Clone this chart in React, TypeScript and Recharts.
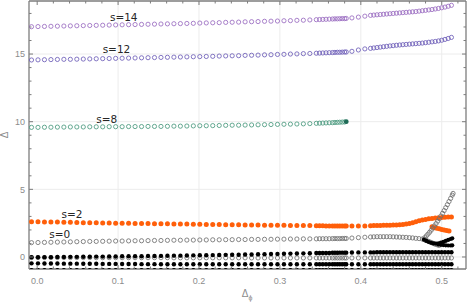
import { CartesianGrid, ReferenceDot, ReferenceLine, Scatter, ScatterChart, XAxis, YAxis } from "recharts"

// x positions of the computed points (one sweep, two dense scans, a gap in between)
const xSweep = [
  -0.007, 0.001, 0.009, 0.017, 0.025, 0.033, 0.041, 0.049, 0.057, 0.065, 0.073, 0.081, 0.089, 0.097, 0.105,
  0.113, 0.121, 0.129, 0.137, 0.145, 0.153, 0.161, 0.169, 0.177, 0.185, 0.193, 0.201, 0.209, 0.217, 0.225,
  0.233, 0.241, 0.249, 0.257, 0.265, 0.273, 0.281, 0.289, 0.297, 0.305, 0.313, 0.321, 0.329, 0.337
]
const xDense1 = [0.345, 0.349, 0.353, 0.357, 0.361, 0.365, 0.368, 0.371, 0.374, 0.377, 0.38, 0.382]
const xGap = [0.389, 0.397, 0.405]
const xDense2 = [
  0.412, 0.416, 0.42, 0.424, 0.428, 0.432, 0.436, 0.44, 0.444, 0.448, 0.452, 0.456, 0.46, 0.464, 0.468,
  0.472, 0.476, 0.48, 0.484, 0.488, 0.492, 0.496, 0.5, 0.504, 0.508, 0.512
]

const s14 = [
  17.02, 17.03, 17.04, 17.05, 17.06, 17.07, 17.08, 17.09, 17.1, 17.11, 17.12, 17.13, 17.14, 17.15, 17.16,
  17.17, 17.18, 17.19, 17.2, 17.21, 17.22, 17.23, 17.24, 17.25, 17.26, 17.27, 17.29, 17.3, 17.31, 17.32,
  17.34, 17.35, 17.36, 17.38, 17.39, 17.4, 17.42, 17.43, 17.44, 17.46, 17.47, 17.49, 17.5, 17.52,
  17.54, 17.55, 17.56, 17.57, 17.58, 17.59, 17.6, 17.6, 17.61, 17.62, 17.62, 17.63,
  17.67, 17.73, 17.8,
  17.86, 17.88, 17.9, 17.92, 17.94, 17.96, 17.98, 18.0, 18.02, 18.04, 18.06, 18.08, 18.1, 18.12, 18.14,
  18.17, 18.2, 18.23, 18.26, 18.29, 18.33, 18.37, 18.42, 18.47, 18.53, 18.6
]
const s12 = [
  14.56, 14.57, 14.58, 14.59, 14.6, 14.61, 14.61, 14.62, 14.63, 14.64, 14.65, 14.66, 14.67, 14.68, 14.69,
  14.7, 14.71, 14.72, 14.73, 14.74, 14.75, 14.76, 14.77, 14.78, 14.79, 14.8, 14.81, 14.82, 14.83, 14.85,
  14.86, 14.87, 14.88, 14.9, 14.91, 14.92, 14.94, 14.95, 14.97, 14.98, 15.0, 15.01, 15.03, 15.04,
  15.06, 15.07, 15.08, 15.09, 15.1, 15.11, 15.12, 15.13, 15.13, 15.14, 15.15, 15.15,
  15.2, 15.3, 15.38,
  15.42, 15.45, 15.48, 15.51, 15.54, 15.57, 15.6, 15.62, 15.65, 15.67, 15.69, 15.71, 15.73, 15.75, 15.77,
  15.79, 15.81, 15.84, 15.87, 15.9, 15.93, 15.97, 16.02, 16.08, 16.15, 16.23
]
const s8 = [
  9.58, 9.58, 9.59, 9.59, 9.6, 9.6, 9.61, 9.61, 9.61, 9.62, 9.62, 9.62, 9.63, 9.63, 9.63,
  9.64, 9.64, 9.64, 9.65, 9.65, 9.65, 9.66, 9.67, 9.67, 9.68, 9.69, 9.7, 9.7, 9.71, 9.72,
  9.73, 9.74, 9.74, 9.75, 9.76, 9.77, 9.78, 9.79, 9.8, 9.81, 9.82, 9.83, 9.84, 9.86,
  9.88, 9.89, 9.9, 9.91, 9.92, 9.93, 9.94, 9.95, 9.96, 9.97, 9.98, 10.0
]
const s2 = [
  2.61, 2.6, 2.59, 2.58, 2.58, 2.57, 2.56, 2.55, 2.54, 2.53, 2.53, 2.52, 2.51, 2.5, 2.5,
  2.49, 2.48, 2.48, 2.47, 2.46, 2.46, 2.45, 2.44, 2.44, 2.43, 2.42, 2.42, 2.41, 2.4, 2.4,
  2.39, 2.38, 2.38, 2.37, 2.37, 2.36, 2.35, 2.35, 2.34, 2.34, 2.33, 2.33, 2.32, 2.32,
  2.31, 2.31, 2.31, 2.3, 2.3, 2.3, 2.3, 2.3, 2.3, 2.3, 2.3, 2.3,
  2.3, 2.3, 2.3,
  2.31, 2.32, 2.33, 2.33, 2.34, 2.35, 2.35, 2.36, 2.37, 2.39, 2.41, 2.44, 2.48, 2.54, 2.61,
  2.68, 2.74, 2.78, 2.82, 2.85, 2.88, 2.9, 2.92, 2.94, 2.95, 2.96
]
const xS2Branch = [0.488, 0.491, 0.494, 0.497, 0.5, 0.503, 0.506, 0.509]
const s2Branch = [2.23, 2.17, 2.12, 2.08, 2.04, 2.0, 1.96, 1.93]

// s=0 runs up to x=0.476, then splits
const s0 = [
  1.06, 1.07, 1.08, 1.09, 1.1, 1.11, 1.12, 1.13, 1.14, 1.15, 1.15, 1.16, 1.17, 1.18, 1.18,
  1.19, 1.2, 1.2, 1.21, 1.22, 1.22, 1.23, 1.24, 1.24, 1.25, 1.25, 1.26, 1.26, 1.27, 1.27,
  1.28, 1.28, 1.29, 1.29, 1.3, 1.3, 1.31, 1.31, 1.32, 1.32, 1.33, 1.33, 1.34, 1.34,
  1.34, 1.35, 1.35, 1.35, 1.35, 1.36, 1.36, 1.36, 1.36, 1.37, 1.37, 1.37,
  1.4, 1.43, 1.46,
  1.48, 1.49, 1.5, 1.5, 1.5, 1.5, 1.5, 1.49, 1.48, 1.47, 1.46, 1.45, 1.43, 1.41, 1.38, 1.36, 1.33
]
const xS0Rise = [0.479, 0.481, 0.483, 0.485, 0.487, 0.489, 0.491, 0.493, 0.495, 0.497, 0.499, 0.501, 0.503, 0.505, 0.507, 0.509, 0.511, 0.513, 0.514]
const s0Rise = [1.43, 1.56, 1.69, 1.83, 1.98, 2.14, 2.3, 2.47, 2.65, 2.83, 3.03, 3.23, 3.43, 3.65, 3.87, 4.1, 4.33, 4.57, 4.7]
const xS0Fall = [0.479, 0.481, 0.483, 0.485, 0.487, 0.489, 0.491, 0.493, 0.495, 0.497]
const s0Fall = [1.27, 1.22, 1.17, 1.12, 1.07, 1.02, 0.97, 0.93, 0.89, 0.86]

const xFork = [
  0.478, 0.481, 0.484, 0.487, 0.49, 0.493, 0.496, 0.499, 0.502, 0.505, 0.508, 0.511, 0.513,
  0.496, 0.499, 0.502, 0.505, 0.508, 0.511, 0.513
]
const fork = [
  1.28, 1.19, 1.11, 1.05, 1.0, 0.99, 1.01, 1.06, 1.12, 1.19, 1.26, 1.33, 1.38,
  0.93, 0.9, 0.88, 0.86, 0.85, 0.85, 0.86
]

const lowA = [
  -0.02, -0.02, -0.01, -0.01, 0.0, 0.0, 0.01, 0.01, 0.02, 0.02, 0.03, 0.03, 0.04, 0.04, 0.05,
  0.05, 0.06, 0.06, 0.07, 0.07, 0.08, 0.09, 0.1, 0.1, 0.11, 0.12, 0.13, 0.13, 0.14, 0.15,
  0.16, 0.17, 0.17, 0.18, 0.19, 0.2, 0.21, 0.22, 0.23, 0.24, 0.25, 0.26, 0.27, 0.28,
  0.29, 0.29, 0.3, 0.3, 0.3, 0.31, 0.31, 0.31, 0.32, 0.32, 0.32, 0.32,
  0.33, 0.34, 0.34,
  0.34, 0.34, 0.35, 0.35, 0.35, 0.35, 0.35, 0.35, 0.35, 0.35, 0.35, 0.35, 0.35, 0.35, 0.35,
  0.35, 0.35, 0.35, 0.35, 0.35, 0.35, 0.35, 0.35, 0.35, 0.35, 0.35
]
const lowOpen = [
  -0.04, -0.04, -0.04, -0.04, -0.04, -0.04, -0.04, -0.04, -0.04, -0.04, -0.05, -0.05, -0.05, -0.05, -0.05,
  -0.05, -0.05, -0.05, -0.05, -0.05, -0.05, -0.05, -0.06, -0.06, -0.06, -0.06, -0.06, -0.06, -0.06, -0.06,
  -0.06, -0.06, -0.06, -0.06, -0.07, -0.07, -0.07, -0.07, -0.07, -0.07, -0.07, -0.07, -0.07, -0.07,
  -0.07, -0.07, -0.07, -0.07, -0.07, -0.07, -0.07, -0.07, -0.07, -0.07, -0.07, -0.07,
  -0.07, -0.07, -0.07,
  -0.07, -0.07, -0.07, -0.07, -0.07, -0.07, -0.07, -0.07, -0.07, -0.07, -0.07, -0.07, -0.07, -0.07, -0.07,
  -0.07, -0.07, -0.07, -0.07, -0.07, -0.07, -0.07, -0.07, -0.07, -0.07, -0.07
]
const lowB = [
  -0.47, -0.47, -0.48, -0.48, -0.48, -0.49, -0.49, -0.49, -0.5, -0.5, -0.5, -0.51, -0.51, -0.51, -0.52,
  -0.52, -0.52, -0.53, -0.53, -0.53, -0.54, -0.54, -0.54, -0.54, -0.54, -0.54, -0.54, -0.54, -0.54, -0.54,
  -0.54, -0.54, -0.54, -0.54, -0.54, -0.54, -0.54, -0.54, -0.54, -0.54, -0.54, -0.54, -0.54, -0.54,
  -0.54, -0.54, -0.54, -0.54, -0.54, -0.54, -0.54, -0.54, -0.54, -0.54, -0.54, -0.54,
  -0.54, -0.54, -0.54,
  -0.54, -0.54, -0.54, -0.54, -0.54, -0.54, -0.54, -0.54, -0.54, -0.54, -0.54, -0.54, -0.54, -0.54, -0.54,
  -0.54, -0.54, -0.54, -0.54, -0.54, -0.54, -0.54, -0.54, -0.54, -0.54, -0.54
]
const lowC = [
  -0.98, -0.98, -0.98, -0.98, -0.98, -0.98, -0.98, -0.98, -0.98, -0.98, -0.98, -0.98, -0.98, -0.98, -0.98,
  -0.98, -0.98, -0.98, -0.98, -0.98, -0.98, -0.98, -0.98, -0.98, -0.98, -0.98, -0.98, -0.98, -0.98, -0.98,
  -0.98, -0.98, -0.98, -0.98, -0.98, -0.98, -0.98, -0.98, -0.98, -0.98, -0.98, -0.98, -0.98, -0.98,
  -0.98, -0.98, -0.98, -0.98, -0.98, -0.98, -0.98, -0.98, -0.98, -0.98, -0.98, -0.98,
  -0.98, -0.98, -0.98,
  -0.98, -0.98, -0.98, -0.98, -0.98, -0.98, -0.98, -0.98, -0.98, -0.98, -0.98, -0.98, -0.98, -0.98, -0.98,
  -0.98, -0.98, -0.98, -0.98, -0.98, -0.98, -0.98, -0.98, -0.98, -0.98, -0.98
]

const labelText = ["s=14", "s=12", "s=8", "s=2", "s=0"]
const labelX = [0.107, 0.098, 0.086, 0.043, 0.028]
const labelY = [17.76, 15.36, 10.18, 3.16, 1.72]

const xTicks = [
  0, 0.02, 0.04, 0.06, 0.08, 0.1, 0.12, 0.14, 0.16, 0.18, 0.2, 0.22, 0.24, 0.26, 0.28, 0.3, 0.32, 0.34,
  0.36, 0.38, 0.4, 0.42, 0.44, 0.46, 0.48, 0.5, 0.52
]
const xMajor = [0, 0.1, 0.2, 0.3, 0.4, 0.5]
const xMajorLabels = ["0.0", "0.1", "0.2", "0.3", "0.4", "0.5"]
const yTicks = [0, 1, 2, 3, 4, 5, 6, 7, 8, 9, 10, 11, 12, 13, 14, 15, 16, 17, 18]
const yMajor = [0, 5, 10, 15]
const yMajorLabels = ["0", "5", "10", "15"]

const X_DOMAIN = [-0.0101, 0.53]
const Y_DOMAIN = [-0.887, 18.92]

const WIDTH = 467
const HEIGHT = 302
const PLOT_LEFT = 29
const PLOT_RIGHT = 466
const PLOT_TOP = 1
const PLOT_BOTTOM = 269
const FRAME = "#7d7d7d"
const TICK_TEXT = "#8c8c8c"

const xAll = [...xSweep, ...xDense1, ...xGap, ...xDense2]

function toPoints(xs: number[], ys: number[]) {
  return ys.map((y, i) => ({ x: xs[i], y, last: i === ys.length - 1 }))
}

function openCircle(color: string) {
  return (props: any) => {
    if (props.cx == null || props.cy == null) return null
    return <circle cx={props.cx} cy={props.cy} r={2.1} fill="none" stroke={color} strokeWidth={0.85} />
  }
}

function dot(color: string, r: number) {
  return (props: any) => {
    if (props.cx == null || props.cy == null) return null
    return <circle cx={props.cx} cy={props.cy} r={r} fill={color} />
  }
}

function tealShape(props: any) {
  if (props.cx == null || props.cy == null) return null
  if (props.payload?.last) return <circle cx={props.cx} cy={props.cy} r={2.4} fill="#1f6b57" />
  return <circle cx={props.cx} cy={props.cy} r={2.1} fill="none" stroke="#4a9a7e" strokeWidth={0.85} />
}

function XTick({ x, payload }: any) {
  const i = xMajor.indexOf(payload.value)
  const len = i >= 0 ? 4 : 2.5
  return (
    <g>
      <line x1={x} x2={x} y1={PLOT_BOTTOM} y2={PLOT_BOTTOM - len} stroke={FRAME} />
      <line x1={x} x2={x} y1={PLOT_TOP} y2={PLOT_TOP + len} stroke={FRAME} />
      {i >= 0 && (
        <text x={x} y={PLOT_BOTTOM + 14.5} textAnchor="middle" fontSize={9} fill={TICK_TEXT}>
          {xMajorLabels[i]}
        </text>
      )}
    </g>
  )
}

function YTick({ y, payload }: any) {
  const i = yMajor.indexOf(payload.value)
  const len = i >= 0 ? 4 : 2.5
  return (
    <g>
      <line x1={PLOT_LEFT} x2={PLOT_LEFT + len} y1={y} y2={y} stroke={FRAME} />
      <line x1={PLOT_RIGHT} x2={PLOT_RIGHT - len} y1={y} y2={y} stroke={FRAME} />
      {i >= 0 && (
        <text x={PLOT_LEFT - 4} y={y + 3.3} textAnchor="end" fontSize={9} fill={TICK_TEXT}>
          {yMajorLabels[i]}
        </text>
      )}
    </g>
  )
}

function XTitle() {
  return (
    <text x={247} y={297} textAnchor="middle" fontSize={10} fill={TICK_TEXT}>
      Δ<tspan fontSize={7} dy={2.5}>ϕ</tspan>
    </text>
  )
}

function YTitle() {
  return (
    <text x={8} y={135} textAnchor="middle" fontSize={10} fill={TICK_TEXT} transform="rotate(-90 8 135)">
      Δ
    </text>
  )
}

function SeriesLabel(text: string) {
  return (props: any) => (
    <text
      x={props.cx}
      y={props.cy}
      textAnchor="middle"
      dominantBaseline="central"
      fontSize={10.5}
      fontFamily="DejaVu Sans"
      fill="#262626"
    >
      {text}
    </text>
  )
}

export default function App() {
  return (
    <div style={{ position: "absolute", left: 0, top: 0, fontFamily: "'Liberation Sans', sans-serif" }}>
      <ScatterChart
        width={WIDTH}
        height={HEIGHT}
        margin={{ top: PLOT_TOP, right: WIDTH - PLOT_RIGHT, bottom: 0, left: 0 }}
      >
        <CartesianGrid
          stroke="#ececec"
          verticalValues={xMajor.filter((v) => v > 0)}
          horizontalValues={yMajor}
        />
        <XAxis
          type="number"
          dataKey="x"
          domain={X_DOMAIN}
          allowDataOverflow
          ticks={xTicks}
          interval={0}
          height={HEIGHT - PLOT_BOTTOM}
          tickLine={false}
          tick={<XTick />}
          axisLine={{ stroke: FRAME, strokeWidth: 1.3 }}
          label={<XTitle />}
        />
        <YAxis
          type="number"
          dataKey="y"
          domain={Y_DOMAIN}
          allowDataOverflow
          ticks={yTicks}
          interval={0}
          width={PLOT_LEFT}
          tickLine={false}
          tick={<YTick />}
          axisLine={{ stroke: FRAME, strokeWidth: 1.3 }}
          label={<YTitle />}
        />
        <ReferenceLine y={Y_DOMAIN[1]} stroke={FRAME} strokeWidth={1.3} />
        <ReferenceLine x={X_DOMAIN[1]} stroke={FRAME} strokeWidth={1.3} />

        <Scatter data={toPoints(xAll, s14)} shape={openCircle("#9a6cc0")} isAnimationActive={false} />
        <Scatter data={toPoints(xAll, s12)} shape={openCircle("#6e5fb8")} isAnimationActive={false} />
        <Scatter data={toPoints(xAll, s8)} shape={tealShape} isAnimationActive={false} />
        <Scatter data={toPoints(xAll, s2)} shape={dot("#ff5f0a", 2.5)} isAnimationActive={false} />
        <Scatter data={toPoints(xS2Branch, s2Branch)} shape={dot("#ff5f0a", 2.5)} isAnimationActive={false} />
        <Scatter data={toPoints(xAll, lowOpen)} shape={openCircle("#707070")} isAnimationActive={false} />
        <Scatter data={toPoints(xAll, s0)} shape={openCircle("#707070")} isAnimationActive={false} />
        <Scatter data={toPoints(xS0Rise, s0Rise)} shape={openCircle("#707070")} isAnimationActive={false} />
        <Scatter data={toPoints(xS0Fall, s0Fall)} shape={openCircle("#707070")} isAnimationActive={false} />
        <Scatter data={toPoints(xFork, fork)} shape={dot("#000", 2.1)} isAnimationActive={false} />
        <Scatter data={toPoints(xAll, lowA)} shape={dot("#000", 2.2)} isAnimationActive={false} />
        <Scatter data={toPoints(xAll, lowB)} shape={dot("#000", 2.2)} isAnimationActive={false} />
        <Scatter data={toPoints(xAll, lowC)} shape={dot("#000", 2.2)} isAnimationActive={false} />

        {labelText.map((t, i) => (
          <ReferenceDot key={t} x={labelX[i]} y={labelY[i]} r={0} shape={SeriesLabel(t)} />
        ))}
      </ScatterChart>
    </div>
  )
}
